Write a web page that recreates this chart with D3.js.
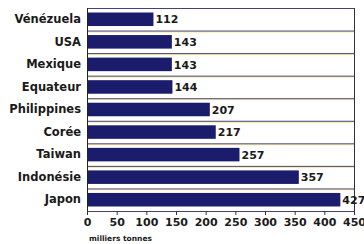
<!DOCTYPE html>
<html>
<head>
<meta charset="utf-8">
<script src="https://cdn.jsdelivr.net/npm/d3@7"></script>
<style>
  body { margin: 0; background: #fff; }
  text { font-family: "DejaVu Sans", sans-serif; font-weight: bold; fill: #1a1a1a; }
</style>
</head>
<body>
<script>
var countries = ['Vénézuela', 'USA', 'Mexique', 'Equateur', 'Philippines', 'Corée', 'Taiwan', 'Indonésie', 'Japon'];
var values = [112, 143, 143, 144, 207, 217, 257, 357, 427];
var ticks = [0, 50, 100, 150, 200, 250, 300, 350, 400, 450];

var width = 364, height = 244;
var margin = {top: 8, left: 87, right: 10, bottom: 33};

var svg = d3.select('body').append('svg')
  .attr('width', width)
  .attr('height', height);

var x = d3.scaleLinear()
  .domain([0, 450])
  .range([margin.left, width - margin.right]);

var y = d3.scaleBand()
  .domain(countries)
  .range([margin.top, height - margin.bottom])
  .paddingInner(0.4)
  .paddingOuter(0.2);

var step = y.step();
var top0 = margin.top, bottom0 = height - margin.bottom;

// row separators
var seps = d3.range(countries.length + 1).map(function(i) { return top0 + i * (bottom0 - top0) / countries.length; });
svg.selectAll('line.sepy')
  .data(seps.slice(1, -1))
  .enter().append('line')
  .attr('x1', x(0)).attr('x2', x(450))
  .attr('y1', function(d) { return d + 1.5; }).attr('y2', function(d) { return d + 1.5; })
  .attr('stroke', '#f3ee9a').attr('stroke-width', 1);
svg.selectAll('line.sep')
  .data(seps)
  .enter().append('line')
  .attr('x1', x(0)).attr('x2', x(450))
  .attr('y1', function(d) { return d + 0.5; }).attr('y2', function(d) { return d + 0.5; })
  .attr('stroke', '#4a3f74').attr('stroke-width', 1);

// right border
svg.append('line')
  .attr('x1', x(450) + 0.5).attr('x2', x(450) + 0.5)
  .attr('y1', top0).attr('y2', bottom0 + 4)
  .attr('stroke', '#333').attr('stroke-width', 1);

// bars
svg.selectAll('rect.bar')
  .data(values)
  .enter().append('rect')
  .attr('x', x(0))
  .attr('y', function(d, i) { return y(countries[i]); })
  .attr('width', function(d) { return x(d) - x(0); })
  .attr('height', y.bandwidth())
  .attr('fill', '#1b1c6b');

svg.selectAll('text.val')
  .data(values)
  .enter().append('text')
  .attr('x', function(d) { return x(d) + 2; })
  .attr('y', function(d, i) { return y(countries[i]) + y.bandwidth() / 2; })
  .attr('dy', '0.38em')
  .style('font-size', '11px')
  .text(function(d) { return d; });

// y axis
var yAxis = svg.append('g')
  .attr('transform', 'translate(' + x(0) + ',0)')
  .call(d3.axisLeft(y).tickSize(0).tickPadding(6));
yAxis.select('.domain').remove();
yAxis.append('line')
  .attr('x1', 0.5).attr('x2', 0.5)
  .attr('y1', top0).attr('y2', bottom0 + 4)
  .attr('stroke', '#222');
yAxis.selectAll('text')
  .style('font-size', '11.5px')
  .style('font-family', '"DejaVu Sans", sans-serif')
  .style('font-weight', 'bold')
  .attr('fill', '#1a1a1a');

// x axis
var xAxis = svg.append('g')
  .attr('transform', 'translate(0,' + bottom0 + ')')
  .call(d3.axisBottom(x).tickValues(ticks).tickSize(4).tickPadding(3));
xAxis.select('.domain').remove();
xAxis.selectAll('line').attr('stroke', '#333');
xAxis.selectAll('text')
  .style('font-size', '11px')
  .style('font-family', '"DejaVu Sans", sans-serif')
  .style('font-weight', 'bold')
  .attr('fill', '#1a1a1a');

svg.append('text')
  .attr('x', x(0) + 2)
  .attr('y', 241)
  .style('font-size', '7.5px')
  .text('milliers tonnes');
</script>
</body>
</html>
